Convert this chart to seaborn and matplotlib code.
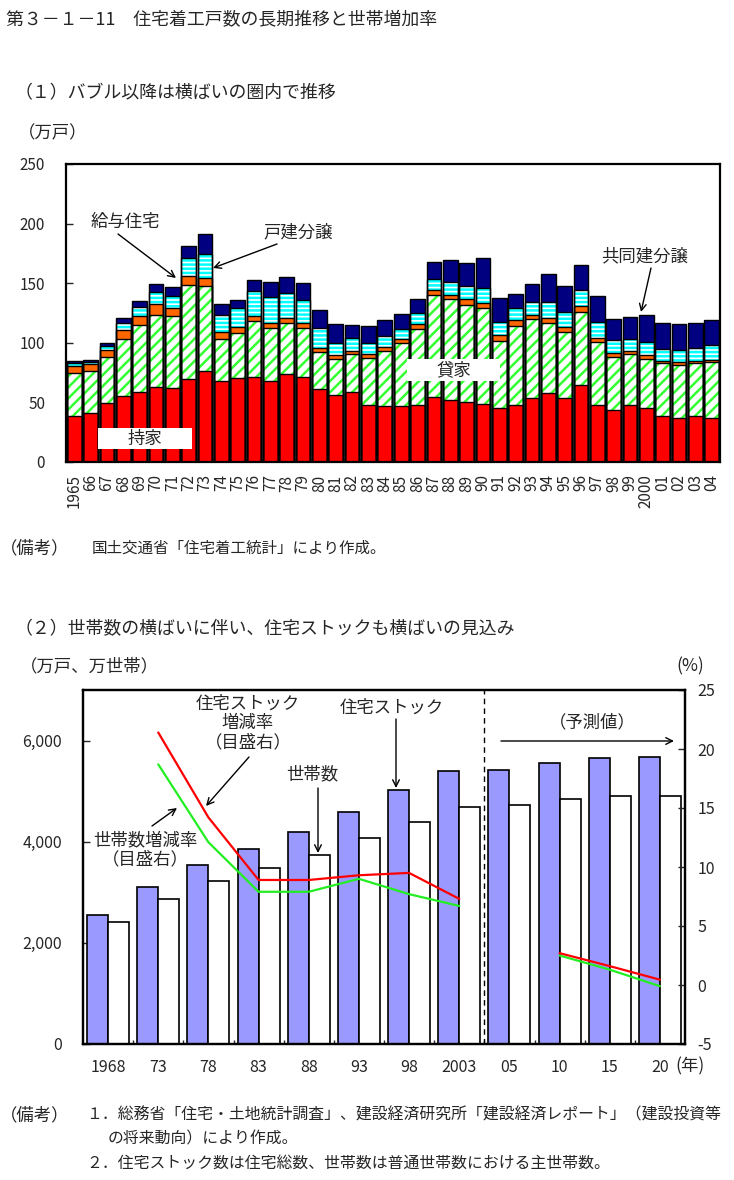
#%%
import numpy as np
import pandas as pd
import seaborn as sns
import matplotlib.pyplot as plt
from matplotlib.patches import Rectangle

# %%
# (1) 住宅着工戸数（万戸）
years = ['1965', '66', '67', '68', '69', '70', '71', '72', '73', '74',
         '75', '76', '77', '78', '79', '80', '81', '82', '83', '84',
         '85', '86', '87', '88', '89', '90', '91', '92', '93', '94',
         '95', '96', '97', '98', '99', '2000', '01', '02', '03', '04']
mochiie = [38.2, 41.0, 49.3, 55.0, 58.8, 62.7, 62.4, 69.4, 76.6, 68.3,
           70.8, 71.3, 68.3, 73.9, 71.0, 61.0, 56.3, 58.8, 47.9, 47.1,
           47.1, 47.9, 54.9, 51.6, 50.7, 48.8, 45.2, 47.9, 54.1, 58.2,
           53.5, 64.7, 47.9, 43.8, 47.9, 45.7, 38.7, 37.3, 38.2, 37.3]
kashiya = [36.2, 35.6, 38.5, 48.0, 56.0, 60.5, 60.0, 79.4, 71.1, 34.8,
           37.1, 47.4, 43.7, 43.1, 41.0, 31.0, 29.8, 31.8, 39.6, 46.0,
           52.4, 63.6, 85.6, 85.0, 81.4, 80.5, 56.5, 66.4, 65.5, 58.6,
           55.8, 61.3, 53.0, 44.5, 42.4, 41.0, 44.1, 44.4, 44.6, 46.3]
kyuyo = [6.1, 5.4, 6.2, 7.6, 7.6, 9.2, 7.2, 7.0, 6.7, 6.2,
         5.5, 3.9, 4.8, 4.2, 4.2, 3.3, 3.6, 2.8, 3.4, 3.6,
         3.3, 4.2, 4.2, 3.3, 4.5, 4.2, 4.8, 4.7, 4.1, 3.6,
         3.6, 4.7, 3.3, 3.4, 2.8, 3.3, 2.2, 1.9, 1.9, 2.0]
kodate = [2.3, 2.0, 3.3, 6.4, 7.6, 10.3, 9.8, 15.6, 20.1, 14.4,
          15.4, 21.2, 22.0, 20.7, 20.1, 17.3, 10.3, 10.3, 9.1, 9.2,
          8.4, 8.9, 9.1, 11.1, 11.1, 12.8, 11.1, 9.8, 10.6, 13.9,
          13.1, 14.0, 13.4, 10.3, 10.0, 10.9, 10.0, 10.3, 10.6, 12.8]
kyodo = [2.2, 1.6, 2.7, 3.7, 5.0, 6.3, 7.5, 9.5, 16.4, 8.7,
         6.9, 8.6, 12.0, 13.1, 13.6, 14.8, 15.7, 11.1, 14.0, 13.1,
         12.8, 12.0, 13.7, 18.2, 19.0, 24.5, 19.8, 11.9, 14.8, 23.2,
         21.4, 20.3, 21.5, 17.8, 18.4, 22.3, 22.0, 21.8, 21.2, 20.6]

# (2) 住宅ストック・世帯数（万戸、万世帯）と増減率（%）
periods = ['1968', '73', '78', '83', '88', '93', '98', '2003', '05', '10', '15', '20']
stock = [2559, 3106, 3545, 3861, 4201, 4588, 5025, 5389, 5426, 5564, 5663, 5683]
households = [2420, 2870, 3228, 3479, 3743, 4079, 4396, 4693, 4733, 4851, 4911, 4911]
stock_rate = [np.nan, 21.4, 14.2, 8.9, 8.9, 9.3, 9.5, 7.3, np.nan, 2.7, 1.6, 0.45]
hh_rate = [np.nan, 18.7, 12.1, 7.9, 7.9, 9.0, 7.7, 6.7, np.nan, 2.5, 1.3, -0.1]
segment = [0, 0, 0, 0, 0, 0, 0, 0, 1, 1, 1, 1]

# %%
sns.set_theme(style='white', rc={'hatch.linewidth': 1.8})
plt.rcParams['font.family'] = ['Noto Sans CJK JP', 'DejaVu Sans']
plt.rcParams['axes.unicode_minus'] = False

W, H = 734, 1180
fx = lambda x: x / W
fy = lambda y: 1 - y / H

fig = plt.figure(figsize=(W / 100, H / 100), dpi=100)
FS = 12.5
HS = 12.9
NS = 11.4

fig.text(fx(6), fy(20), '第３－１－11　住宅着工戸数の長期推移と世帯増加率', fontsize=HS, va='center')
fig.text(fx(15), fy(93), '（１）バブル以降は横ばいの圏内で推移', fontsize=HS, va='center')
fig.text(fx(18), fy(133), '（万戸）', fontsize=FS, va='center')

# %%
# top: stacked housing starts
names = ['持家', '貸家', '給与住宅', '戸建分譲', '共同建分譲']
starts = pd.DataFrame({'year': years, '持家': mochiie, '貸家': kashiya,
                       '給与住宅': kyuyo, '戸建分譲': kodate, '共同建分譲': kyodo})
cum = starts[names].cumsum(axis=1)
styles = {'持家': ('#ff0000', None), '貸家': ('#33ff33', '///'),
          '給与住宅': ('#ff6600', None), '戸建分譲': ('#00ffff', '----'),
          '共同建分譲': ('#000080', None)}

ax1 = fig.add_axes([fx(66), fy(462), (720 - 66) / W, (462 - 164) / H])
for name in reversed(names):
    color, hatch = styles[name]
    if hatch:
        sns.barplot(x=starts['year'], y=cum[name], color='white', edgecolor=color,
                    hatch=hatch, linewidth=0, width=0.9, saturation=1,
                    errorbar=None, ax=ax1)
    else:
        sns.barplot(x=starts['year'], y=cum[name], color=color, linewidth=0,
                    width=0.9, saturation=1, errorbar=None, ax=ax1)
for name in names:
    sns.barplot(x=starts['year'], y=cum[name], fill=False, color='black',
                linewidth=1.0, width=0.9, errorbar=None, ax=ax1)

ax1.set_xlim(-0.5, len(years) - 0.5)
ax1.set_ylim(0, 250)
ax1.set_yticks(range(0, 251, 50))
ax1.set_xlabel('')
ax1.set_ylabel('')
ax1.tick_params(axis='y', direction='in', length=5, width=1, left=True, pad=15, labelsize=11)
ax1.tick_params(axis='x', length=0, pad=9, labelsize=11, labelrotation=90)
for t in ax1.get_xticklabels():
    t.set_va('top')
for s in ax1.spines.values():
    s.set_color('black')
    s.set_linewidth(1.6)

for (x0, y0, x1, y1, label) in [(98, 428, 192, 449, '持家'), (407, 359, 500, 381, '貸家')]:
    ax1.add_patch(Rectangle((fx(x0), fy(y1)), fx(x1) - fx(x0), fy(y0) - fy(y1),
                            transform=fig.transFigure, facecolor='white',
                            edgecolor='none', zorder=6, clip_on=False))
    fig.text(fx((x0 + x1) / 2), fy((y0 + y1) / 2), label, fontsize=FS,
             ha='center', va='center', zorder=7)

arrow = dict(arrowstyle='->', color='black', lw=1, shrinkA=0, shrinkB=0)
fig.text(fx(125), fy(222), '給与住宅', ha='center', va='center', fontsize=FS)
ax1.annotate('', xy=(fx(176), fy(278)), xycoords='figure fraction',
             xytext=(fx(118), fy(234)), textcoords='figure fraction', arrowprops=arrow)
fig.text(fx(298), fy(232), '戸建分譲', ha='center', va='center', fontsize=FS)
ax1.annotate('', xy=(fx(213), fy(268)), xycoords='figure fraction',
             xytext=(fx(277), fy(244)), textcoords='figure fraction', arrowprops=arrow)
fig.text(fx(645), fy(256), '共同建分譲', ha='center', va='center', fontsize=FS)
ax1.annotate('', xy=(fx(641), fy(312)), xycoords='figure fraction',
             xytext=(fx(651), fy(268)), textcoords='figure fraction', arrowprops=arrow)

fig.text(fx(0), fy(548), '（備考）', fontsize=FS, va='center')
fig.text(fx(92), fy(548), '国土交通省「住宅着工統計」により作成。', fontsize=11.2, va='center')
fig.text(fx(15), fy(629), '（２）世帯数の横ばいに伴い、住宅ストックも横ばいの見込み', fontsize=HS, va='center')
fig.text(fx(20), fy(666), '（万戸、万世帯）', fontsize=FS, va='center')
fig.text(fx(690), fy(666), '(%)', fontsize=FS, va='center', ha='center')

# %%
# bottom: stock vs households
hh = pd.DataFrame({'period': periods * 2,
                   'series': ['住宅ストック'] * len(periods) + ['世帯数'] * len(periods),
                   'value': stock + households})
ax2 = fig.add_axes([fx(83), fy(1044), (685 - 83) / W, (1044 - 690) / H])
sns.barplot(data=hh, x='period', y='value', hue='series', palette=['#9999ff', 'white'],
            edgecolor='black', linewidth=1.2, width=0.84, saturation=1,
            errorbar=None, legend=False, ax=ax2)
ax2.set_ylim(0, 7000)
ax2.set_yticks([0, 2000, 4000, 6000])
ax2.set_yticklabels(['0', '2,000', '4,000', '6,000'])
ax2.set_xlabel('')
ax2.set_ylabel('')
ax2.axvline(7.5, color='black', lw=1, ls=(0, (4, 3)))
ax2.set_xticks(np.arange(0.5, len(periods) - 1, 1), minor=True)
ax2.tick_params(axis='y', direction='in', length=5, width=1, left=True, pad=15, labelsize=11.5)
ax2.tick_params(axis='x', which='major', length=0, pad=11, labelsize=11.5)
ax2.tick_params(axis='x', which='minor', direction='in', length=3, width=1, bottom=True)

rates = pd.DataFrame({'pos': range(len(periods)), 'stock_rate': stock_rate,
                      'hh_rate': hh_rate, 'seg': segment})
ax3 = ax2.twinx()
sns.lineplot(data=rates, x='pos', y='hh_rate', units='seg', estimator=None,
             color='#22ee22', lw=1.6, ax=ax3)
sns.lineplot(data=rates, x='pos', y='stock_rate', units='seg', estimator=None,
             color='#ff0000', lw=1.6, ax=ax3)
ax3.set_ylim(-5, 25)
ax3.set_yticks(range(-5, 26, 5))
ax3.set_ylabel('')
ax3.set_xlabel('')
ax3.tick_params(axis='y', direction='in', length=5, width=1, right=True, pad=9, labelsize=11.5)
ax2.set_xlim(-0.5, len(periods) - 0.5)
for a in (ax2, ax3):
    for s in a.spines.values():
        s.set_color('black')
        s.set_linewidth(1.6)

fig.text(fx(690), fy(1066), '(年)', fontsize=FS, va='center', ha='center')

fig.text(fx(248), fy(723), '住宅ストック\n増減率\n（目盛右）', ha='center', va='center',
         fontsize=FS, linespacing=1.1)
ax2.annotate('', xy=(fx(206), fy(806)), xycoords='figure fraction',
             xytext=(fx(249), fy(757)), textcoords='figure fraction', arrowprops=arrow)
fig.text(fx(145), fy(850), '世帯数増減率\n（目盛右）', ha='center', va='center',
         fontsize=FS, linespacing=1.1)
ax2.annotate('', xy=(fx(177), fy(808)), xycoords='figure fraction',
             xytext=(fx(152), fy(826)), textcoords='figure fraction', arrowprops=arrow)
fig.text(fx(312), fy(774), '世帯数', ha='center', va='center', fontsize=FS)
ax2.annotate('', xy=(fx(318), fy(853)), xycoords='figure fraction',
             xytext=(fx(318), fy(788)), textcoords='figure fraction', arrowprops=arrow)
fig.text(fx(392), fy(708), '住宅ストック', ha='center', va='center', fontsize=FS)
ax2.annotate('', xy=(fx(396), fy(788)), xycoords='figure fraction',
             xytext=(fx(396), fy(719)), textcoords='figure fraction', arrowprops=arrow)
fig.text(fx(592), fy(722), '（予測値）', ha='center', va='center', fontsize=FS)
ax2.annotate('', xy=(fx(674), fy(741)), xycoords='figure fraction',
             xytext=(fx(501), fy(741)), textcoords='figure fraction', arrowprops=arrow)

fig.text(fx(0), fy(1115), '（備考）', fontsize=FS, va='center')
fig.text(fx(86), fy(1115), '１．総務省「住宅・土地統計調査」、建設経済研究所「建設経済レポート」（建設投資等',
         fontsize=NS, va='center')
fig.text(fx(108), fy(1139), 'の将来動向）により作成。', fontsize=NS, va='center')
fig.text(fx(86), fy(1163), '２．住宅ストック数は住宅総数、世帯数は普通世帯数における主世帯数。',
         fontsize=NS, va='center')

plt.savefig('out.png', dpi=100)
